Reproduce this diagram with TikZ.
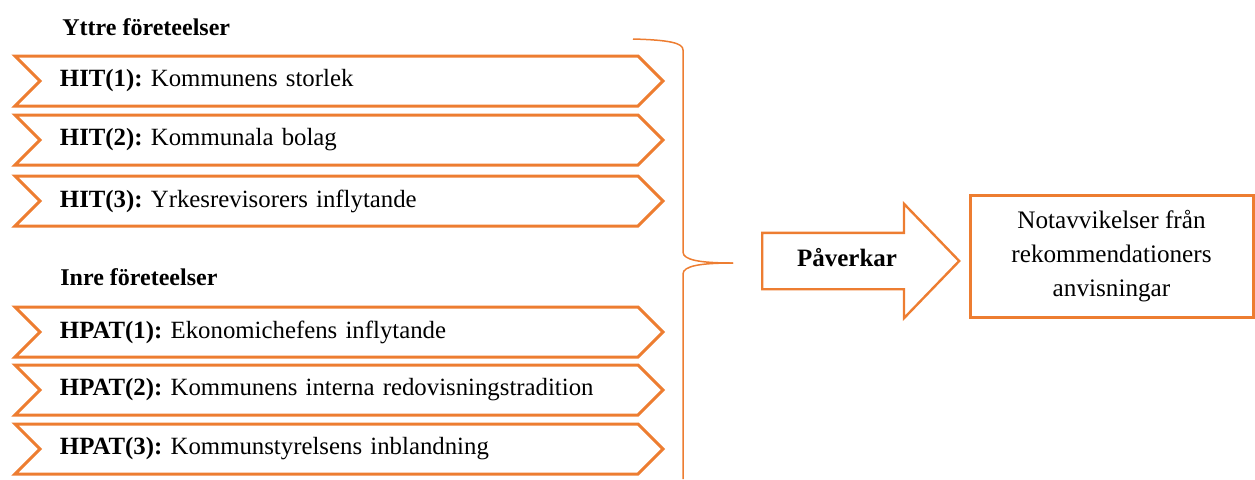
\documentclass[tikz,border=0pt]{standalone}
\usepackage{fontspec}
\setmainfont{Liberation Serif}
\usetikzlibrary{shapes.symbols,shapes.arrows}
\definecolor{accent}{HTML}{ED7D31}
\frenchspacing

\begin{document}
\begin{tikzpicture}[x=0.5pt,y=-0.5pt,
    chev/.style={shape=signal,signal from=west,signal to=east,draw=accent,line width=1.5pt,
        text width=279pt,align=left,inner xsep=10pt,inner ysep=0pt,minimum height=25pt,
        font=\fontsize{12.4}{14}\selectfont},
    rubrik/.style={anchor=west,inner xsep=0pt,font=\fontsize{12}{14}\selectfont\bfseries}]
    \useasboundingbox (0,0) rectangle (1255,479);

    \node[rubrik] (yttre) at (62,27) {Yttre företeelser};
    \node[chev] (hit1) at (339,81) {\textbf{HIT(1):} Kommunens storlek};
    \node[chev] (hit2) at (339,140) {\textbf{HIT(2):} Kommunala bolag};
    \node[chev] (hit3) at (339,201) {\textbf{HIT(3):} Yrkesrevisorers inflytande};

    \node[rubrik] (inre) at (60,277) {Inre företeelser};
    \node[chev] (hpat1) at (339,332) {\textbf{HPAT(1):} Ekonomichefens inflytande};
    \node[chev] (hpat2) at (339,390) {\textbf{HPAT(2):} Kommunens interna redovisningstradition};
    \node[chev] (hpat3) at (339,449) {\textbf{HPAT(3):} Kommunstyrelsens inblandning};

    % klammer
    \coordinate (spets) at (733,263);
    \draw[accent,line width=0.75pt] (633,39) .. controls (670,40) and (683,43) .. (683,50) -- (683,252)
        .. controls (683,260) and (700,263) .. (spets);
    \draw[accent,line width=0.75pt] (spets) .. controls (700,263) and (683,266) .. (683,274) -- (683,479);

    \node[single arrow,draw=accent,line width=1.2pt,anchor=tail,minimum height=98.5pt,
        single arrow head extend=14.5pt,single arrow tip angle=92,inner ysep=8pt,
        text height=8pt,text depth=3pt,font=\fontsize{12.5}{14}\selectfont\bfseries] (paverkar) at (761,261) {Påverkar};

    \node[draw=accent,line width=1.5pt,minimum width=141.5pt,minimum height=61pt,align=center,
        font=\fontsize{12.6}{17}\selectfont] (notavv) at (1111.5,256) {Notavvikelser från\\rekommendationers\\anvisningar};
\end{tikzpicture}
\end{document}
